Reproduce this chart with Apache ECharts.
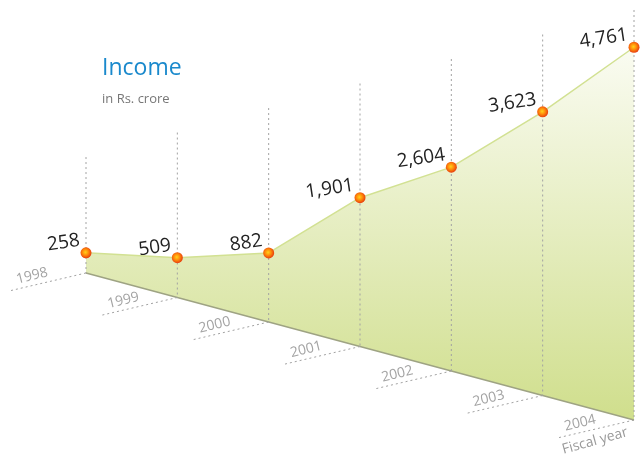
<!DOCTYPE html>
<html>
<head>
<meta charset="utf-8">
<script src="https://cdn.jsdelivr.net/npm/echarts@6/dist/echarts.min.js"></script>
<style>html,body{margin:0;padding:0;background:#fff}#c{width:644px;height:454px}</style>
</head>
<body>
<div id="c"></div>
<script>
// ---- data ----
const years = ['1998', '1999', '2000', '2001', '2002', '2003', '2004'];
const income = [258, 509, 882, 1901, 2604, 3623, 4761];
const valueLabels = ['258', '509', '882', '1,901', '2,604', '3,623', '4,761'];

// ---- perspective layout constants ----
const K = 0.0783;        // px per crore
const ZERO_Y = 273;      // pixel row of value 0 at the first year
const SKEW = 313;        // ground drop per year (in crore units)
const WALL0 = 1481;      // height of guide lines above ground at first year (crore units)
const FONT = '"Open Sans", "Noto Sans", sans-serif';

const base = years.map((_, i) => -SKEW * i);
const tops = income.map((v, i) => v + base[i]);

const chart = echarts.init(document.getElementById('c'), null, {renderer: 'canvas'});
const dash = {stroke: '#a2a2a2', lineWidth: 1, lineDash: [2, 3]};

chart.setOption({
  animation: false,
  backgroundColor: '#ffffff',
  grid: {left: 86, right: 10, top: 0, bottom: 0},
  xAxis: {type: 'category', data: years, boundaryGap: false, show: false},
  yAxis: {type: 'value', min: -(454 - ZERO_Y) / K, max: ZERO_Y / K, show: false},
  title: {
    text: 'Income', subtext: 'in Rs. crore', left: 97, top: 52, itemGap: 13,
    textStyle: {fontFamily: FONT, fontSize: 23, fontWeight: 'normal', color: '#1a89cc'},
    subtextStyle: {fontFamily: FONT, fontSize: 13, color: '#777777'}
  },
  graphic: [{
    type: 'text', x: 595, y: 441, rotation: 0.27,
    style: {text: 'Fiscal year', font: '14px ' + FONT, fill: '#9a9a9a', align: 'center', verticalAlign: 'middle'}
  }],
  series: [
    {
      name: 'ground', type: 'line', stack: 'p', stackStrategy: 'all', data: base, symbol: 'none', z: 1,
      lineStyle: {color: '#9ea383', width: 1.5}
    },
    {
      name: 'Income area', type: 'line', stack: 'p', stackStrategy: 'all', data: income, symbol: 'none', z: 1,
      lineStyle: {color: '#d2e192', width: 1.5},
      areaStyle: {
        opacity: 1,
        color: {type: 'linear', x: 0, y: 40, x2: 0, y2: 425, global: true,
          colorStops: [{offset: 0, color: '#fbfcf4'}, {offset: 1, color: '#cfde8b'}]}
      }
    },
    {
      name: 'guides', type: 'custom', z: 3,
      data: years.map((_, i) => [i, base[i]]),
      renderItem: function (params, api) {
        const i = api.value(0);
        const b = api.coord([i, api.value(1)]);
        const w = api.coord([i, WALL0 + SKEW * i]);
        const t = api.coord([i, api.value(1) + income[i]]);
        return {
          type: 'group',
          children: [
            {type: 'line', shape: {x1: w[0], y1: w[1], x2: b[0], y2: b[1]}, style: dash},
            {type: 'line', shape: {x1: b[0], y1: b[1], x2: b[0] - 77, y2: b[1] + 18}, style: dash},
            {type: 'text', x: b[0] - 54, y: b[1] + 3, rotation: 0.24,
              style: {text: years[i], font: '14px ' + FONT, fill: '#a3a3a3', align: 'center', verticalAlign: 'middle'}},
            {type: 'text', x: t[0] - 5, y: t[1] - 3, rotation: 0.15,
              style: {text: valueLabels[i], font: '19px ' + FONT, fill: '#222222', align: 'right', verticalAlign: 'bottom'}}
          ]
        };
      }
    },
    {
      name: 'Income', type: 'line', data: tops, z: 5,
      lineStyle: {width: 0}, symbol: 'circle', symbolSize: 11,
      itemStyle: {
        color: {type: 'radial', x: 0.45, y: 0.45, r: 0.6,
          colorStops: [{offset: 0, color: '#ffd21c'}, {offset: 0.45, color: '#ff8c0a'}, {offset: 1, color: '#e4300e'}]},
        borderWidth: 0
      }
    }
  ]
});
</script>
</body>
</html>
